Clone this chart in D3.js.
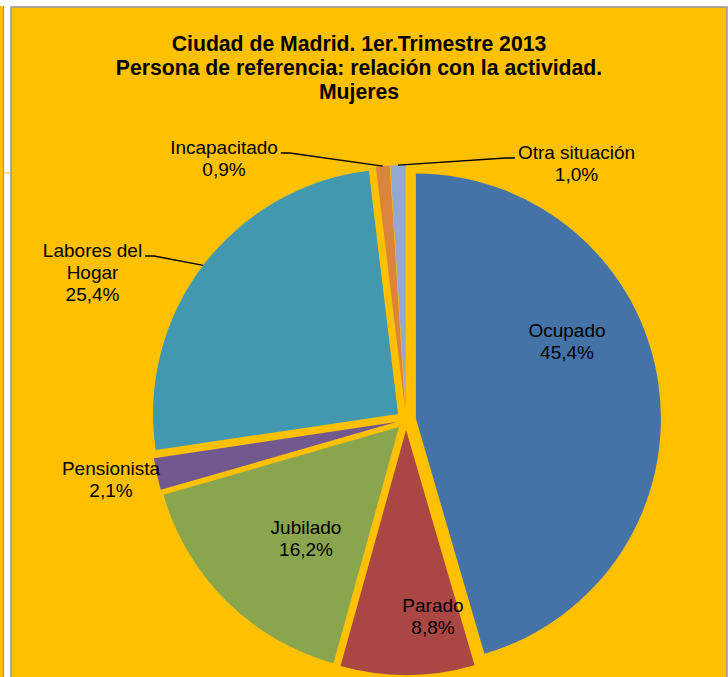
<!DOCTYPE html>
<html>
<head>
<meta charset="utf-8">
<script src="https://cdn.jsdelivr.net/npm/d3@7"></script>
<style>
	body { margin: 0; background: #fff; }
</style>
</head>
<body>
<div class="chart"></div>
<script>
const categories = ["Ocupado", "Parado", "Jubilado", "Pensionista", "Labores del Hogar", "Incapacitado", "Otra situación"];
const values = [45.4, 8.8, 16.2, 2.1, 25.4, 0.9, 1.0];
const labelLines = [["Ocupado"], ["Parado"], ["Jubilado"], ["Pensionista"], ["Labores del", "Hogar"], ["Incapacitado"], ["Otra situación"]];
const colors = ["#4572A7", "#AA4643", "#89A54E", "#71588F", "#4198AF", "#DB843D", "#93A9CF"];
const titleLines = ["Ciudad de Madrid. 1er.Trimestre 2013", "Persona de referencia: relación con la actividad.", "Mujeres"];

// label placement (first baseline, offset from the pie centre) and leader lines
const labelOffsets = [[161, -83], [27, 192], [-100, 114], [-295, 55], [-313.5, -163], [-182, -266], [170.5, -261]];
const leaders = [false, false, false, false, true, true, true];

!function () {
	const width = 728, height = 677;
	const cx = 406, cy = 420, radius = 245, explode = 10;
	const font = "'Liberation Sans', Arial, sans-serif";

	const svg = d3.select(".chart")
		.append("svg")
		.attr("width", width)
		.attr("height", height)
		.attr("viewBox", [0, 0, width, height]);

	// page frame bits around the chart
	svg.append("rect").attr("x", 0).attr("y", 6).attr("width", 3.5).attr("height", height).attr("fill", "#FFC000");
	svg.append("rect").attr("x", 3).attr("y", 6).attr("width", 1.2).attr("height", height).attr("fill", "#9a9a9a");
	svg.append("rect").attr("x", 4.5).attr("y", 172.5).attr("width", 5.5).attr("height", 1).attr("fill", "#FFC000");
	svg.append("rect")
		.attr("x", 11).attr("y", 7)
		.attr("width", 716).attr("height", height)
		.attr("fill", "#FFC000")
		.attr("stroke", "#9a9a9a")
		.attr("stroke-width", 1.6);

	// title
	svg.append("text")
		.attr("text-anchor", "middle")
		.style("font", `bold 21.2px ${font}`)
		.selectAll("tspan")
		.data(titleLines)
		.join("tspan")
		.attr("x", 359)
		.attr("y", (_, i) => 51 + i * 24)
		.text(d => d);

	const pie = d3.pie().sort(null).value(d => d)(values);
	const arc = d3.arc().innerRadius(0).outerRadius(radius);
	const mid = d => (d.startAngle + d.endAngle) / 2;
	const shift = d => d3.pointRadial(mid(d), explode);

	const g = svg.append("g").attr("transform", `translate(${cx},${cy})`);

	g.append("g")
		.selectAll("path")
		.data(pie)
		.join("path")
		.attr("transform", d => `translate(${shift(d)})`)
		.attr("fill", (_, i) => colors[i])
		.attr("d", arc);

	const fmt = v => d3.format(".1f")(v).replace(".", ",") + "%";

	const labels = g.append("g")
		.attr("text-anchor", "middle")
		.style("font", `19px ${font}`)
		.selectAll("text")
		.data(pie)
		.join("text")
		.attr("fill", "#000");

	labels.selectAll("tspan")
		.data((d, i) => labelLines[i].concat(fmt(values[i])).map(t => ({ t, i })))
		.join("tspan")
		.attr("x", d => labelOffsets[d.i][0])
		.attr("y", (d, j) => labelOffsets[d.i][1] + j * 22)
		.text(d => d.t);

	// leader lines from label to the middle of the slice edge
	labels.each(function (d, i) {
		if (!leaders[i]) return;
		const w = this.querySelector("tspan").getComputedTextLength();
		const [lx, ly] = labelOffsets[i];
		const side = lx < 0 ? 1 : -1;
		const x0 = lx + side * (w / 2 + 3), y0 = ly - 1;
		const [sx, sy] = shift(d);
		const [ex, ey] = d3.pointRadial(mid(d), radius);
		g.append("path")
			.attr("fill", "none")
			.attr("stroke", "#000")
			.attr("stroke-width", 1.3)
			.attr("d", d3.line()([[x0, y0], [x0 + side * 9, y0], [sx + ex, sy + ey]]));
	});
}();
</script>
</body>
</html>
